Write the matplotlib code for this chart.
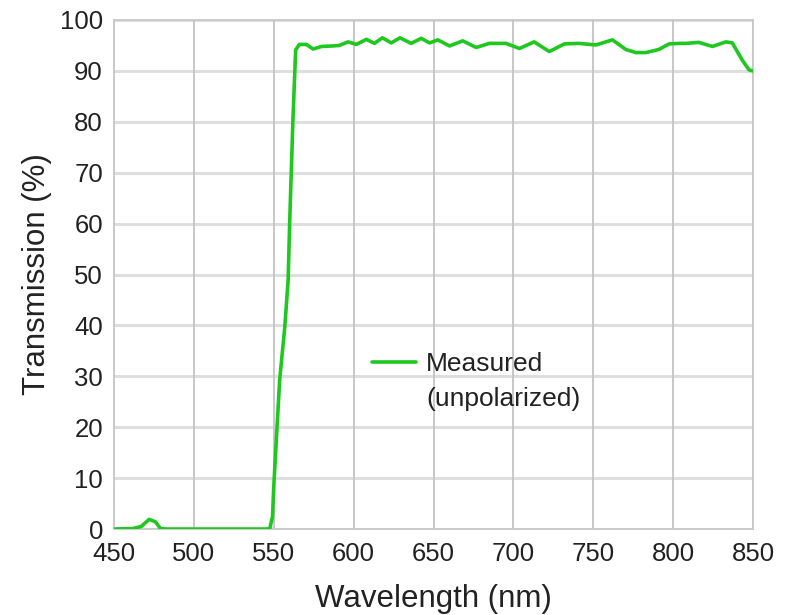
import matplotlib
matplotlib.use('Agg')
import matplotlib.pyplot as plt
from matplotlib.lines import Line2D

# set font
plt.rcParams['font.family'] = ['Liberation Sans', 'DejaVu Sans']

# data
wavelength = [450, 462, 467, 472, 476, 479, 483, 500, 520, 540, 545.5, 547.5,
              549.2, 550, 551.7, 553.7, 556.9, 559, 560, 562, 563.7, 566,
              570.4, 574.6, 580, 587, 591, 596.5, 601.7, 608, 613, 618,
              623.5, 629, 636, 642.3, 647.5, 652.7, 660, 668.3, 676.7, 685,
              695.4, 703.75, 713, 722.5, 731.9, 741, 751.7, 762, 770.4,
              776.7, 783, 791, 797.5, 803.75, 808, 816, 824.6, 833, 837,
              843.3, 847.5, 850]
transmission = [0, 0.1, 0.5, 1.9, 1.4, 0.1, 0, 0, 0, 0, 0, 0.1,
                2.4, 8.3, 18.1, 29.3, 39.7, 48.9, 60.7, 80.4, 94.1, 95.2,
                95.2, 94.3, 94.8, 94.9, 95.0, 95.7, 95.2, 96.2, 95.4, 96.5,
                95.5, 96.5, 95.4, 96.4, 95.5, 96.1, 94.9, 95.9, 94.6, 95.4,
                95.4, 94.4, 95.7, 93.8, 95.3, 95.4, 95.1, 96.1, 94.2,
                93.6, 93.6, 94.2, 95.3, 95.4, 95.4, 95.6, 94.8, 95.7, 95.5,
                92.1, 90.2, 90.0]

x_ticks = list(range(450, 851, 50))
y_ticks = list(range(0, 101, 10))

fig = plt.figure(figsize=(7.94, 6.15), dpi=100)
ax = fig.add_axes([0.1436, 0.1398, 0.8048, 0.8277])

# grid: vertical darker/thin, horizontal lighter/thicker
for xv in x_ticks:
    ax.axvline(xv, color='#c4c4c4', lw=1.3, zorder=1)
for yv in y_ticks:
    ax.axhline(yv, color='#dedede', lw=2.2, zorder=0.9)

line, = ax.plot(wavelength, transmission, color='#1ec81e', lw=2.6, zorder=3,
                solid_joinstyle='round', solid_capstyle='round')

ax.set_xlim(450, 850)
ax.set_ylim(0, 100)
ax.set_xticks(x_ticks)
ax.set_yticks(y_ticks)
ax.tick_params(length=0, labelsize=18.5, colors='#222222')
ax.tick_params(axis='x', pad=9)
ax.tick_params(axis='y', pad=8)

for s in ax.spines.values():
    s.set_color('#c8c8c8')
    s.set_linewidth(1.3)

ax.set_xlabel('Wavelength (nm)', fontsize=22.5, color='#222222', va='center')
ax.set_ylabel('Transmission (%)', fontsize=22.5, color='#222222', va='center')
ax.xaxis.set_label_coords(0.5, -0.137)
ax.yaxis.set_label_coords(-0.121, 0.5)

# legend: line on first row, second row text only
blank = Line2D([], [], color='none')
ax.legend([line, blank], ['Measured', '(unpolarized)'], frameon=False,
          fontsize=19, loc='center left', bbox_to_anchor=(0.404, 0.29),
          handlelength=1.65, handletextpad=0.4, labelspacing=0.42,
          borderpad=0, borderaxespad=0, labelcolor='#222222')

plt.savefig('out.png', dpi=100)
